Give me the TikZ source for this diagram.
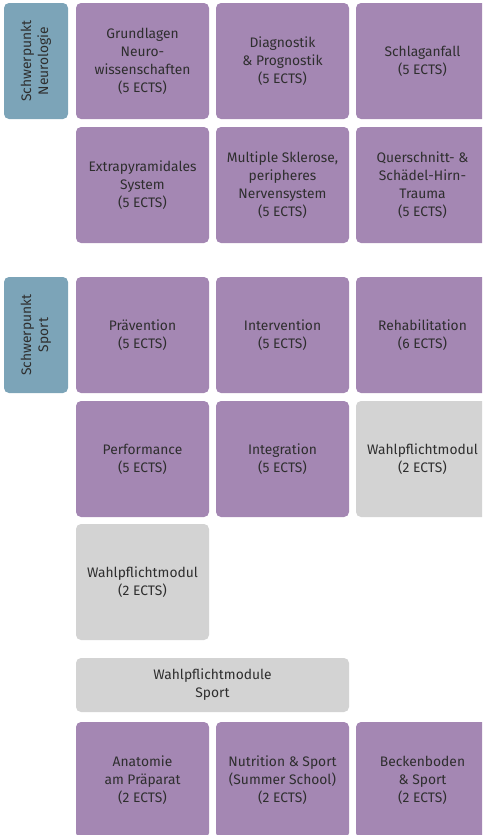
\documentclass[tikz,border=0pt]{standalone}
\usepackage{fontspec}
\setmainfont{Fira Sans}
\definecolor{purp}{HTML}{A487B3}
\definecolor{blu}{HTML}{7CA4B8}
\definecolor{gry}{HTML}{D3D3D3}
\definecolor{txt}{HTML}{2E2E2E}
\begin{document}
\begin{tikzpicture}[x=1pt,y=-1pt,
  box/.style={rectangle, rounded corners=5pt, inner sep=0pt, align=center,
    text=txt, font=\fontsize{13.8}{18}\selectfont, minimum width=133pt, minimum height=116pt},
  pbox/.style={box, fill=purp},
  gbox/.style={box, fill=gry},
  bbox/.style={box, fill=blu, minimum width=64pt, minimum height=116pt}]
\useasboundingbox (0,0) rectangle (482,835);
\clip (0,0) rectangle (482,835);
% Neurologie
\node[bbox] (bn) at (36,61) {\rotatebox{90}{\begin{tabular}{@{}c@{}}Schwerpunkt\\[-1pt]Neurologie\end{tabular}}};
\node[pbox] (n1) at (142.5,61) {Grundlagen\\Neuro-\\wissenschaften\\(5 ECTS)};
\node[pbox] (n2) at (282.5,61) {Diagnostik\\\& Prognostik\\(5 ECTS)};
\node[pbox] (n3) at (422.5,61) {Schlaganfall\\(5 ECTS)};
\node[pbox] (n4) at (142.5,185) {Extrapyramidales\\System\\(5 ECTS)};
\node[pbox] (n5) at (282.5,185) {Multiple Sklerose,\\peripheres\\Nervensystem\\(5 ECTS)};
\node[pbox] (n6) at (422.5,185) {Querschnitt- \&\\Schädel-Hirn-\\Trauma\\(5 ECTS)};
% Sport
\node[bbox] (bs) at (36,335) {\rotatebox{90}{\begin{tabular}{@{}c@{}}Schwerpunkt\\[-1pt]Sport\end{tabular}}};
\node[pbox] (s1) at (142.5,335) {Prävention\\(5 ECTS)};
\node[pbox] (s2) at (282.5,335) {Intervention\\(5 ECTS)};
\node[pbox] (s3) at (422.5,335) {Rehabilitation\\(6 ECTS)};
\node[pbox] (s4) at (142.5,459) {Performance\\(5 ECTS)};
\node[pbox] (s5) at (282.5,459) {Integration\\(5 ECTS)};
\node[gbox] (s6) at (422.5,459) {Wahlpflichtmodul\\(2 ECTS)};
\node[gbox] (s7) at (142.5,582) {Wahlpflichtmodul\\(2 ECTS)};
\node[gbox, minimum width=273pt, minimum height=54pt] (w) at (212.5,685) {Wahlpflichtmodule\\Sport};
\node[pbox] (w1) at (142.5,780) {Anatomie\\am Präparat\\(2 ECTS)};
\node[pbox] (w2) at (282.5,780) {Nutrition \& Sport\\(Summer School)\\(2 ECTS)};
\node[pbox] (w3) at (422.5,780) {Beckenboden\\\& Sport\\(2 ECTS)};
\end{tikzpicture}
\end{document}
